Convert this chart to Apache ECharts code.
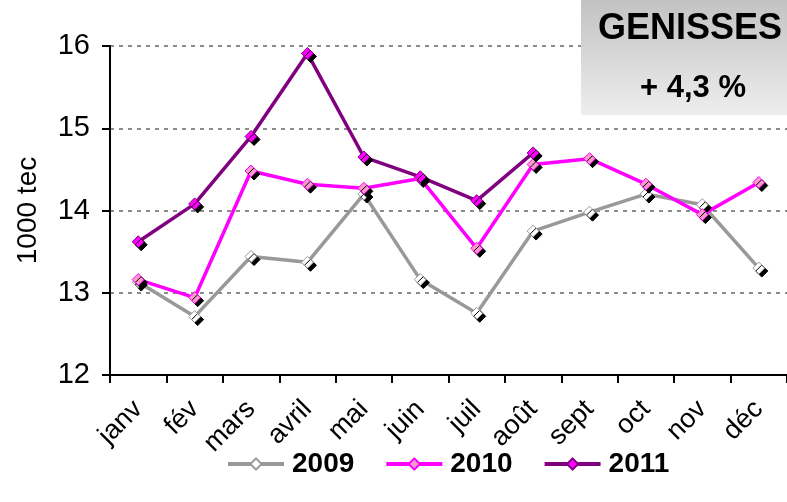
<!DOCTYPE html>
<html>
<head>
<meta charset="utf-8">
<script src="https://cdn.jsdelivr.net/npm/echarts@6/dist/echarts.min.js"></script>
<style>
html,body{margin:0;padding:0;background:#fff;}
#c{width:787px;height:502px;}
</style>
</head>
<body>
<div id="c"></div>
<script>
const months = ['janv','fév','mars','avril','mai','juin','juil','août','sept','oct','nov','déc'];
const s2009 = [13.13,12.71,13.44,13.37,14.20,13.16,12.75,13.75,13.98,14.20,14.07,13.30];
const s2010 = [13.16,12.94,14.48,14.32,14.27,14.39,13.54,14.56,14.63,14.32,13.95,14.34];
const s2011 = [13.62,14.08,14.90,15.91,14.65,14.41,14.12,14.70];
const yTicks = {min:12, max:16, interval:1};
const title = 'GENISSES';
const subtitle = '+ 4,3 %';
const yName = '1000 tec';

const FONT = '"Liberation Sans", Arial, sans-serif';
const chart = echarts.init(document.getElementById('c'), null, {renderer:'canvas'});

function mk(name, data, line, fill, border){
  return {
    name, type:'line', data,
    symbol:'diamond', symbolSize:12,
    lineStyle:{color:line, width:3.5},
    itemStyle:{color:fill, borderColor:border, borderWidth:1,
      shadowColor:'#000', shadowBlur:0, shadowOffsetX:3, shadowOffsetY:3},
    emphasis:{disabled:true},
    animation:false
  };
}

chart.setOption({
  animation:false,
  grid:{left:110, top:46, right:-11, bottom:127},
  xAxis:{
    type:'category', data:months, boundaryGap:true,
    axisLine:{lineStyle:{color:'#000', width:2}},
    axisTick:{show:true, length:8, lineStyle:{color:'#000', width:2}},
    axisLabel:{rotate:45, margin:30, color:'#000', fontSize:27, fontFamily:FONT},
    splitLine:{show:false}
  },
  yAxis:{
    type:'value', min:yTicks.min, max:yTicks.max, interval:yTicks.interval,
    name:yName, nameLocation:'middle', nameGap:68, nameRotate:90,
    nameTextStyle:{color:'#000', fontSize:28, fontFamily:FONT},
    axisLine:{show:true, lineStyle:{color:'#000', width:2}},
    axisTick:{show:true, length:8, lineStyle:{color:'#000', width:2}},
    axisLabel:{margin:20, color:'#000', fontSize:29, fontFamily:FONT},
    splitLine:{show:true, lineStyle:{color:'#8c8c8c', width:2, type:[4,5]}}
  },
  legend:{
    left:221, top:445, itemWidth:56, itemHeight:14, itemGap:30,
    textStyle:{color:'#000', fontSize:28, fontWeight:'bold', fontFamily:FONT, padding:[0,0,0,3]},
    itemStyle:{shadowColor:'rgba(0,0,0,0)', shadowOffsetX:0, shadowOffsetY:0},
    lineStyle:{width:4},
    data:['2009','2010','2011']
  },
  graphic:[
    {type:'rect', left:581, top:0, z:100,
      shape:{width:220, height:115},
      style:{fill:new echarts.graphic.LinearGradient(0,0,0,1,[{offset:0,color:'#c2c2c2'},{offset:1,color:'#eeeeee'}])}},
    {type:'text', z:101, left:598, top:11,
      style:{text:title, fill:'#000', font:'bold 36px '+FONT}},
    {type:'text', z:101, left:640, top:73,
      style:{text:subtitle, fill:'#000', font:'bold 31px '+FONT}}
  ],
  series:[
    mk('2009', s2009, '#999999', '#ffffff', '#999999'),
    mk('2010', s2010, '#ff00ff', '#ff99cc', '#ff00ff'),
    mk('2011', s2011, '#800080', '#ff00ff', '#800080')
  ]
});
</script>
</body>
</html>
